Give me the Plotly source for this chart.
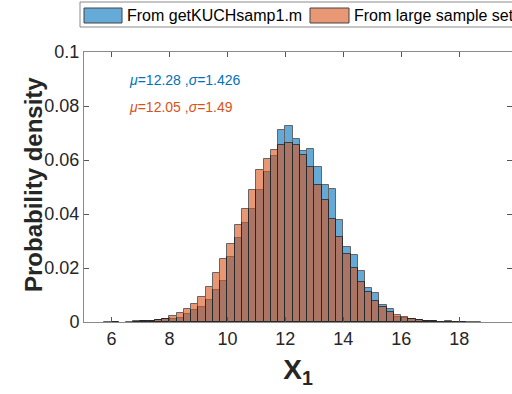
import numpy as np
import plotly.graph_objects as go

# Histogram bins (left edges), bin width 0.25
bin_width = 0.25
bin_left_edges = np.arange(5.5, 18.76, 0.25)
bin_centers = bin_left_edges + bin_width / 2

# Probability density, "From getKUCHsamp1.m"
pdf_kuch = [0, 0, 0.0001, 0, 0, 0.0001, 0.0002, 0.0003, 0.0006, 0.0010,
            0.0012, 0.0015, 0.0030, 0.0044, 0.0054, 0.0081, 0.0119, 0.0153,
            0.0242, 0.0310, 0.0365, 0.0419, 0.0489, 0.0556, 0.0616, 0.0711,
            0.0726, 0.0677, 0.0635, 0.0642, 0.0573, 0.0506, 0.0493, 0.0377,
            0.0279, 0.0248, 0.0188, 0.0126, 0.0107, 0.0062, 0.0049, 0.0020,
            0.0015, 0.0010, 0.0006, 0.0005, 0.0002, 0.0001, 0.0003, 0.0001,
            0.0001, 0.0001, 0.0001, 0]

# Probability density, "From large sample set"
pdf_large = [0, 0.0001, 0.0001, 0, 0.0001, 0.0002, 0.0003, 0.0005, 0.0007, 0.0012,
             0.0021, 0.0033, 0.0048, 0.0067, 0.0094, 0.0131, 0.0180, 0.0233,
             0.0288, 0.0358, 0.0420, 0.0489, 0.0562, 0.0605, 0.0636, 0.0657,
             0.0664, 0.0657, 0.0617, 0.0574, 0.0509, 0.0452, 0.0383, 0.0316,
             0.0252, 0.0200, 0.0149, 0.0112, 0.0078, 0.0054, 0.0038, 0.0025,
             0.0017, 0.0010, 0.0006, 0.0004, 0.0002, 0.0001, 0.0001, 0.0001,
             0.0001, 0, 0, 0]

series_names = ["From getKUCHsamp1.m", "From large sample set"]
stats_text = ["<i>μ</i>=12.28 ,<i>σ</i>=1.426", "<i>μ</i>=12.05 ,<i>σ</i>=1.49"]
x_title = "<b>X<sub>1</sub></b>"
y_title = "<b>Probability density</b>"
x_ticks = [6, 8, 10, 12, 14, 16, 18]
y_ticks = [0, 0.02, 0.04, 0.06, 0.08, 0.1]
y_tick_labels = ["0", "0.02", "0.04", "0.06", "0.08", "0.1"]

BLUE = "rgb(0,114,189)"
ORANGE = "rgb(217,83,25)"
FONT = "Liberation Sans, Arial, sans-serif"


def nz(vals):
    # empty bins draw nothing
    return [v if v > 0 else None for v in vals]


fig = go.Figure()
fig.add_trace(go.Bar(x=bin_centers, y=nz(pdf_kuch), width=bin_width, name=series_names[0],
                     marker=dict(color=BLUE, line=dict(color="black", width=1)),
                     opacity=0.6, showlegend=False))
fig.add_trace(go.Bar(x=bin_centers, y=nz(pdf_large), width=bin_width, name=series_names[1],
                     marker=dict(color=ORANGE, line=dict(color="black", width=1)),
                     opacity=0.6, showlegend=False))

# plot area geometry (pixels) used to place the legend in paper coords
L, R, T, B = 84, 512, 52, 322
W, H = R - L, B - T
px = lambda X: (X - L) / W
py = lambda Y: (B - Y) / H

shapes = [
    dict(type="rect", xref="paper", yref="paper", x0=px(80), x1=px(514), y0=py(27), y1=py(2),
         line=dict(color="#8a8a8a", width=1), fillcolor="white", layer="above"),
    dict(type="rect", xref="paper", yref="paper", x0=px(84), x1=px(122), y0=py(23), y1=py(8),
         line=dict(color="#444", width=1), fillcolor="rgba(0,114,189,0.6)", layer="above"),
    dict(type="rect", xref="paper", yref="paper", x0=px(310), x1=px(349), y0=py(23), y1=py(8),
         line=dict(color="#444", width=1), fillcolor="rgba(217,83,25,0.6)", layer="above"),
]
annotations = [
    dict(text=series_names[0], xref="paper", yref="paper", x=px(125), y=py(15.5),
         xanchor="left", yanchor="middle", showarrow=False,
         font=dict(family=FONT, size=16, color="black")),
    dict(text=series_names[1], xref="paper", yref="paper", x=px(352), y=py(15.5),
         xanchor="left", yanchor="middle", showarrow=False,
         font=dict(family=FONT, size=16, color="black")),
    dict(text=stats_text[0], xref="paper", yref="paper", x=px(127), y=py(80),
         xanchor="left", yanchor="middle", showarrow=False,
         font=dict(family=FONT, size=14, color=BLUE)),
    dict(text=stats_text[1], xref="paper", yref="paper", x=px(127), y=py(107),
         xanchor="left", yanchor="middle", showarrow=False,
         font=dict(family=FONT, size=14, color=ORANGE)),
    dict(text=y_title, xref="paper", yref="paper", x=px(33), y=py(185), textangle=-90,
         xanchor="center", yanchor="middle", showarrow=False,
         font=dict(family=FONT, size=24, color="#262626")),
]

fig.update_layout(
    width=512, height=394, autosize=False,
    margin=dict(l=L, r=512 - R, t=T, b=394 - B, pad=0),
    barmode="overlay", bargap=0,
    plot_bgcolor="white", paper_bgcolor="white",
    font=dict(family=FONT, color="#262626"),
    shapes=shapes, annotations=annotations,
    xaxis=dict(range=[5.05, 5.05 + W / 28.97], tickvals=x_ticks, ticks="inside", ticklen=5,
               tickcolor="#555", showline=True, linecolor="#8a8a8a", linewidth=1, mirror="ticks",
               showgrid=False, zeroline=False, tickfont=dict(size=18, color="#262626"),
               title=dict(text=x_title, font=dict(size=28, color="#262626"),
                          standoff=11)),
    yaxis=dict(range=[0, 0.1], tickvals=y_ticks, ticktext=y_tick_labels, ticks="inside",
               ticklen=5, tickcolor="#555", showline=True, linecolor="#8a8a8a", linewidth=1,
               mirror="ticks", showgrid=False, zeroline=False,
               tickfont=dict(size=18, color="#262626")),
)

fig.write_html("out.html")
